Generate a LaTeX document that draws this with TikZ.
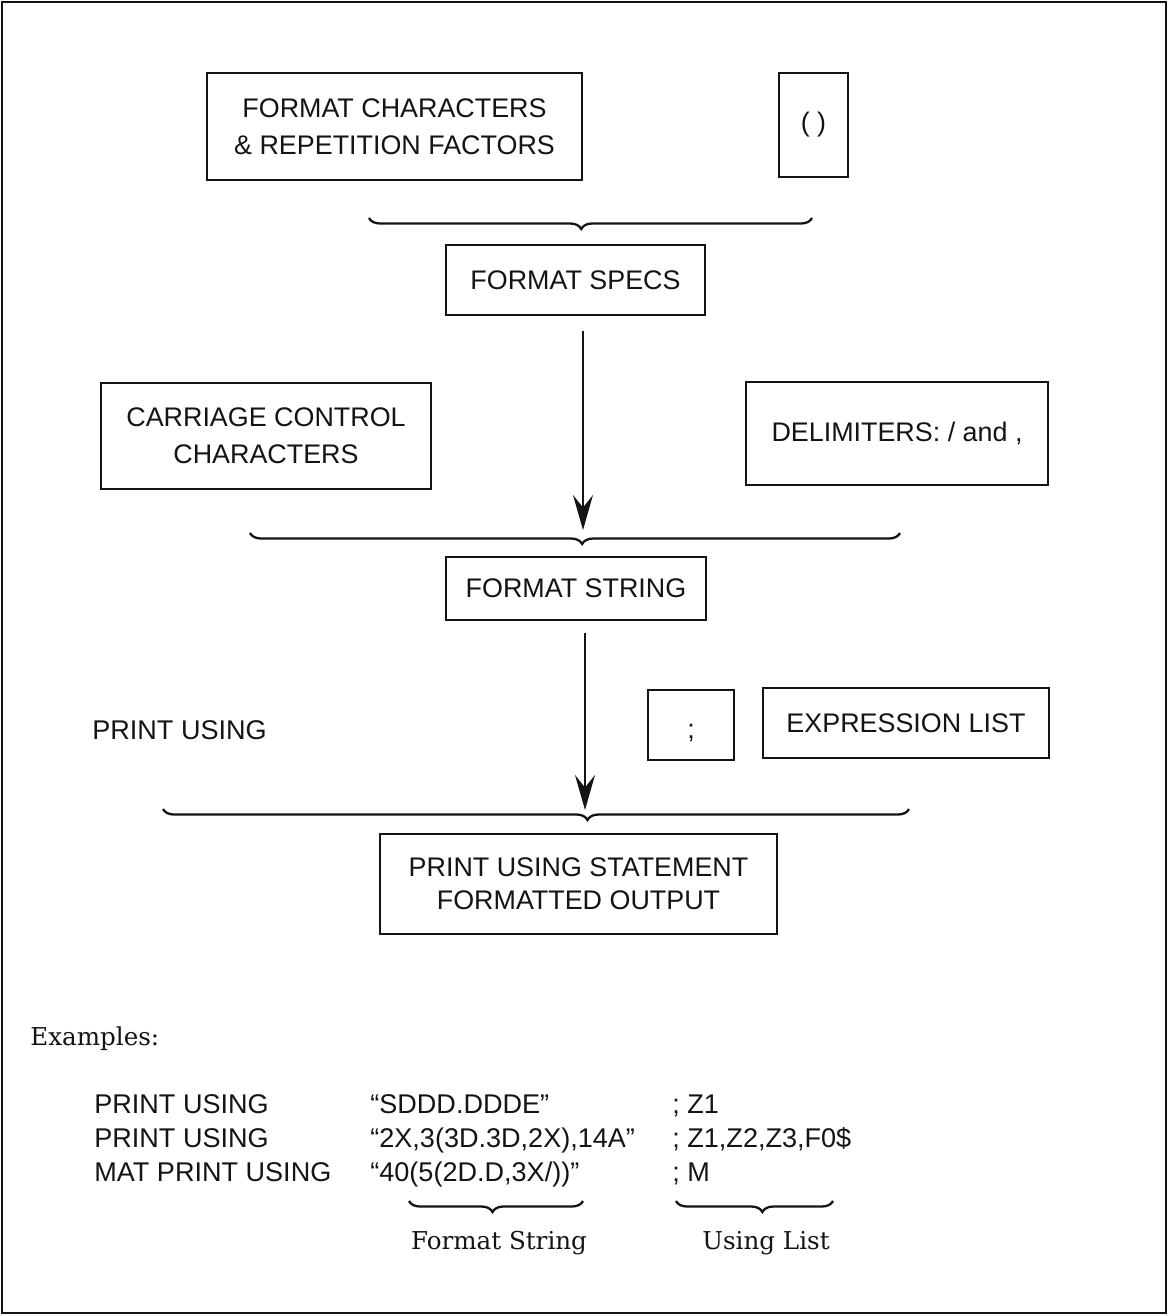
\documentclass[tikz,border=0pt]{standalone}
\usepackage{fontspec}
\setsansfont{Liberation Sans}
\newfontfamily\exfont{DejaVu Serif}
\usetikzlibrary{arrows.meta,positioning,decorations.pathreplacing}
\definecolor{fsink}{HTML}{141414}

\begin{document}
\begin{tikzpicture}[x=0.02cm, y=-0.02cm,
  box/.style={draw=fsink, line width=1.5pt, text=fsink, inner sep=0pt,
    font=\sffamily\fontsize{15.3}{21}\selectfont, align=center},
  txt/.style={font=\sffamily\fontsize{15.4}{19}\selectfont, text=fsink,
    inner sep=0pt, anchor=base west},
  lab/.style={font=\exfont\fontsize{14}{18}\selectfont, text=fsink, inner sep=0pt},
  arr/.style={-{Stealth[length=7mm, width=4mm, inset=2.5mm]}, line width=1.3pt, fsink},
  brc/.style={decorate, decoration={brace, mirror, amplitude=2.2mm, aspect=#1},
    line width=1.3pt, fsink}]
\useasboundingbox (0,0) rectangle (1171,1316);
\draw[line width=1.5pt, fsink] (2,2) rectangle (1166,1313);
% building blocks of the format string
\node[box, minimum width=7.5cm, minimum height=2.14cm] (fmtchar) at (394.5,126.5)
  {FORMAT CHARACTERS\\\& REPETITION FACTORS};
\node[box, minimum width=1.38cm, minimum height=2.08cm] (paren) at (813.5,125) {( )};
\node[box, minimum width=5.18cm, minimum height=1.4cm] (specs) at (575.5,280) {FORMAT SPECS};
\node[box, minimum width=6.6cm, minimum height=2.12cm] (carriage) at (266,436)
  {CARRIAGE CONTROL\\CHARACTERS};
\node[box, minimum width=6.04cm, minimum height=2.06cm] (delim) at (897,433.5)
  {DELIMITERS: / and ,};
\node[box, minimum width=5.2cm, minimum height=1.26cm] (fstring) at (576,588.5) {FORMAT STRING};
\node[txt, anchor=west] (pusing) at (92,730) {PRINT USING};
\node[box, minimum width=1.72cm, minimum height=1.4cm, text height=17pt, text depth=2pt]
  (semi) at (691,725) {;};
\node[box, minimum width=5.72cm, minimum height=1.4cm] (exprlist) at (906,723) {EXPRESSION LIST};
\node[box, minimum width=7.94cm, minimum height=2cm] (output) at (578.5,884)
  {PRINT USING STATEMENT\\[-2pt]FORMATTED OUTPUT};
% braces and arrows
\coordinate (b1l) at (369,218);
\coordinate (b1r) at (812,218);
\coordinate (b2l) at (250,533);
\coordinate (b2r) at (900,533);
\coordinate (b2tip) at (583,530);
\coordinate (b3l) at (163,809);
\coordinate (b3r) at (909,809);
\coordinate (b3tip) at (585,810);
\draw[brc=0.479] (b1l) -- (b1r);
\draw[brc=0.511] (b2l) -- (b2r);
\draw[brc=0.569] (b3l) -- (b3r);
\draw[arr, shorten <=0.3cm] (b2tip |- specs.south) -- (b2tip);
\draw[arr, shorten <=0.24cm] (b3tip |- fstring.south) -- (b3tip);
% examples
\node[lab, anchor=base west] (examples) at (30,1045) {Examples:};
\node[txt] (r1a) at (94,1113) {PRINT USING};
\node[txt] (r2a) at (94,1147) {PRINT USING};
\node[txt] (r3a) at (94,1181) {MAT PRINT USING};
\node[txt] (r1b) at (370,1113) {“SDDD.DDDE”};
\node[txt] (r2b) at (370,1147) {“2X,3(3D.3D,2X),14A”};
\node[txt] (r3b) at (370,1181) {“40(5(2D.D,3X/))”};
\node[txt] (r1c) at (672,1113) {; Z1};
\node[txt] (r2c) at (672,1147) {; Z1,Z2,Z3,F0\$};
\node[txt] (r3c) at (672,1181) {; M};
\coordinate (b4l) at (409,1201);
\coordinate (b4r) at (583,1201);
\coordinate (b5l) at (676,1201);
\coordinate (b5r) at (833,1201);
\draw[brc=0.48] (b4l) -- (b4r);
\draw[brc=0.55] (b5l) -- (b5r);
\node[lab, anchor=base] (fslab) at (499,1249) {Format String};
\node[lab, anchor=base] (ullab) at (766,1249) {Using List};
\end{tikzpicture}
\end{document}
